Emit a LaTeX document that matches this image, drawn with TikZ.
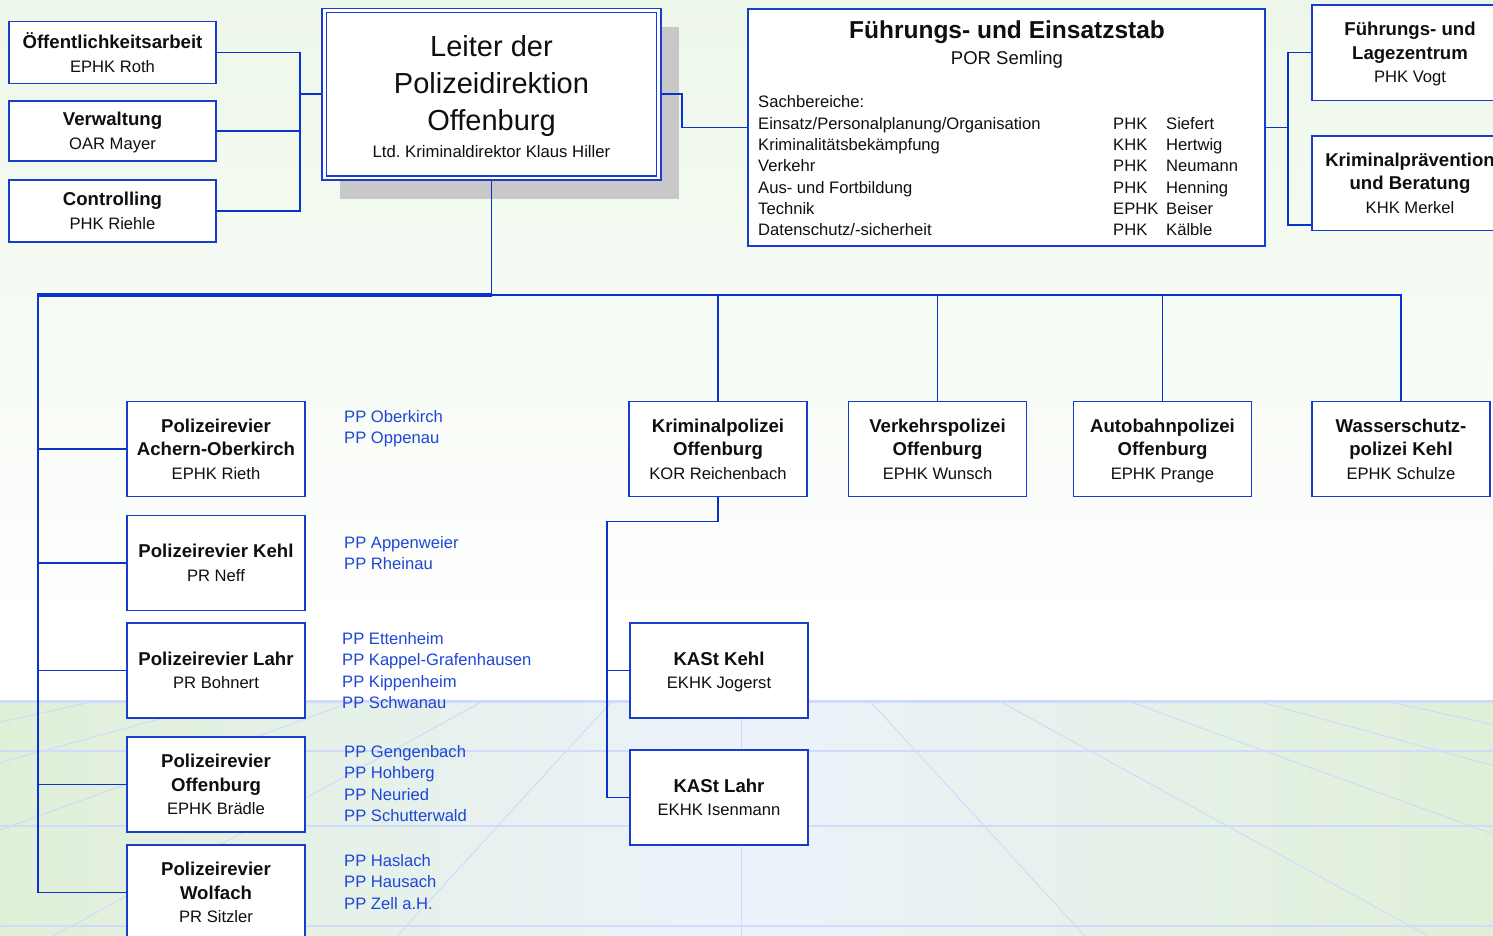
\documentclass[tikz,border=0pt]{standalone}
\usepackage{fontspec}
\setmainfont{Liberation Sans}
\definecolor{boxblue}{RGB}{25,60,205}
\definecolor{lineblue}{RGB}{10,50,205}
\definecolor{ppblue}{RGB}{30,70,215}
\definecolor{gridblue}{RGB}{208,218,250}
\definecolor{topgreen}{RGB}{237,247,233}
\definecolor{floorgreen}{RGB}{224,240,216}
\definecolor{floorblue}{RGB}{236,242,251}
\definecolor{shadowgray}{RGB}{200,200,200}
\definecolor{txt}{RGB}{15,15,15}
\tikzset{
  orgbox/.style={draw=boxblue, line width=1.6pt, fill=white, inner sep=0pt, align=center, text=txt,
    font=\fontsize{16.6}{23.5}\selectfont, minimum width=178pt, minimum height=95pt},
  conn/.style={draw=lineblue, line width=1.5pt},
  pplist/.style={text=ppblue, inner sep=0pt, anchor=base west, font=\fontsize{16.6}{21.5}\selectfont},
}
\newcommand\boxttl[1]{{\fontsize{18.6}{23.5}\selectfont\bfseries #1}}
\newcommand\subln[1]{\smash{#1}}
\newcommand\pplines[1]{\begin{tabular}[t]{@{}l@{}}#1\end{tabular}}
\begin{document}
\begin{tikzpicture}[x=1pt,y=-1pt]
\useasboundingbox (0,0) rectangle (1493,936);
\begin{scope}
\clip (0,0) rectangle (1493,936);
% background
\shade[top color=topgreen, bottom color=white] (0,0) rectangle (1493,640);
\fill[white] (0,639) rectangle (1493,700);
\shade[left color=floorgreen, right color=floorgreen, middle color=floorblue] (0,700) rectangle (1493,936);
\begin{scope}
\clip (0,700) rectangle (1493,936);
\foreach \k in {-7,...,7}
  \draw[gridblue, line width=1pt] ({741+128*\k},700) -- ({741+343.8*\k},936);
\end{scope}
\draw[gridblue, line width=3pt] (0,701) -- (1493,701);
\foreach \yy in {751,826,926}
  \draw[gridblue, line width=1.6pt] (0,\yy) -- (1493,\yy);

% staff boxes left
\node[orgbox, minimum width=207pt, minimum height=62pt] (oeff) at (112.5,52.5) {\boxttl{Öffentlichkeitsarbeit}\\\subln{EPHK Roth}};
\node[orgbox, minimum width=207pt, minimum height=60pt] (verw) at (112.5,131) {\boxttl{Verwaltung}\\\subln{OAR Mayer}};
\node[orgbox, minimum width=207pt, minimum height=62pt] (contr) at (112.5,211) {\boxttl{Controlling}\\\subln{PHK Riehle}};

% leiter
\fill[shadowgray] (340,27) rectangle (679,199);
\node[draw=boxblue, line width=1.3pt, fill=white, minimum width=339pt, minimum height=171.5pt, inner sep=0pt] (leiter) at (491.5,94.25) {};
\draw[boxblue, line width=1.3pt] ([shift={(5pt,-4.5pt)}]leiter.north west) rectangle ([shift={(-5pt,4.5pt)}]leiter.south east);
\node[align=center, inner sep=0pt, text=txt, font=\fontsize{29}{37}\selectfont] (leitertxt) at (491.5,97)
  {Leiter der\\Polizeidirektion\\Offenburg\\[-10pt]{\fontsize{16.7}{20}\selectfont Ltd.\ Kriminaldirektor Klaus Hiller}};

% Fuehrungs- und Einsatzstab
\node[draw=boxblue, line width=1.6pt, fill=white, minimum width=517pt, minimum height=237pt, inner sep=0pt] (fue) at (1006.5,127.5) {};
\node[inner sep=0pt, anchor=base, text=txt, font=\fontsize{24.5}{28}\selectfont\bfseries] (fuettl) at (1007,39) {Führungs- und Einsatzstab};
\node[inner sep=0pt, anchor=base, text=txt, font=\fontsize{18.5}{22}\selectfont] (fuepor) at (1007,64.5) {POR Semling};
\node[inner sep=0pt, anchor=base west, text=txt, font=\fontsize{16.6}{21.33}\selectfont] (fuelist) at (758,108)
  {\begin{tabular}[t]{@{}p{355pt}@{}p{53pt}@{}l@{}}
   Sachbereiche: & & \\
   Einsatz/Personalplanung/Organisation & PHK & Siefert\\
   Kriminalitätsbekämpfung & KHK & Hertwig\\
   Verkehr & PHK & Neumann\\
   Aus- und Fortbildung & PHK & Henning\\
   Technik & EPHK & Beiser\\
   Datenschutz/-sicherheit & PHK & Kälble
   \end{tabular}};

% right boxes
\node[orgbox, minimum width=196pt, minimum height=95.5pt] (lage) at (1410,52.75) {\boxttl{Führungs- und}\\\boxttl{Lagezentrum}\\\subln{PHK Vogt}};
\node[orgbox, minimum width=196pt, minimum height=94.5pt] (krimprev) at (1410,183.25) {\boxttl{Kriminalprävention}\\\boxttl{und Beratung}\\\subln{KHK Merkel}};

% Polizeireviere
\node[orgbox] (achern) at (216,449) {\boxttl{Polizeirevier}\\\boxttl{Achern-Oberkirch}\\\subln{EPHK Rieth}};
\node[orgbox] (kehl) at (216,563) {\boxttl{Polizeirevier Kehl}\\\subln{PR Neff}};
\node[orgbox] (lahr) at (216,670.5) {\boxttl{Polizeirevier Lahr}\\\subln{PR Bohnert}};
\node[orgbox] (offb) at (216,784.5) {\boxttl{Polizeirevier}\\\boxttl{Offenburg}\\\subln{EPHK Brädle}};
\node[orgbox] (wolf) at (216,892.5) {\boxttl{Polizeirevier}\\\boxttl{Wolfach}\\\subln{PR Sitzler}};

% Polizeiposten
\node[pplist] (pp1) at (344,422.3) {\pplines{PP Oberkirch\\PP Oppenau}};
\node[pplist] (pp2) at (344,548) {\pplines{PP Appenweier\\PP Rheinau}};
\node[pplist] (pp3) at (342,644) {\pplines{PP Ettenheim\\PP Kappel-Grafenhausen\\PP Kippenheim\\PP Schwanau}};
\node[pplist] (pp4) at (344,757) {\pplines{PP Gengenbach\\PP Hohberg\\PP Neuried\\PP Schutterwald}};
\node[pplist] (pp5) at (344,866) {\pplines{PP Haslach\\PP Hausach\\PP Zell a.H.}};

% top row
\node[orgbox] (kripo) at (718,449) {\boxttl{Kriminalpolizei}\\\boxttl{Offenburg}\\\subln{KOR Reichenbach}};
\node[orgbox] (verk) at (937.5,449) {\boxttl{Verkehrspolizei}\\\boxttl{Offenburg}\\\subln{EPHK Wunsch}};
\node[orgbox] (autob) at (1162.5,449) {\boxttl{Autobahnpolizei}\\\boxttl{Offenburg}\\\subln{EPHK Prange}};
\node[orgbox] (wasser) at (1401,449) {\boxttl{Wasserschutz-}\\\boxttl{polizei Kehl}\\\subln{EPHK Schulze}};

% KASt
\node[orgbox] (kastk) at (719,670.5) {\boxttl{KASt Kehl}\\\subln{EKHK Jogerst}};
\node[orgbox] (kastlahr) at (719,797.5) {\boxttl{KASt Lahr}\\\subln{EKHK Isenmann}};

% connectors
\coordinate (jl) at (300,94.25);
\draw[conn] (oeff.east) -| (jl);
\draw[conn] (contr.east) -| (jl);
\draw[conn] (verw.east) -- (verw.east -| jl);
\draw[conn] (jl) -- (leiter.west);

\coordinate (jr) at (682,110);
\draw[conn] (leiter.east) -| (jr) |- (fue.west);

\coordinate (jf) at (1288,127.5);
\draw[conn] (fue.east) -- (jf);
\draw[conn] (lage.west) -| (jf);
\draw[conn] ([yshift=-41.5pt]krimprev.west) -| (jf);

\coordinate (barL) at (38,295);
\coordinate (barR) at (1401,294.5);
\draw[conn] (leiter.south) -- (leiter.south |- barL);
\draw[draw=lineblue, line width=3.2pt] ([xshift=-1.25pt]barL) -- (leiter.south |- barL);
\draw[draw=lineblue, line width=2pt] (leiter.south |- barR) -- ([xshift=0.6pt]barR);
\draw[draw=lineblue, line width=1.2pt] (kripo.north |- barR) -- (kripo.north);
\draw[draw=lineblue, line width=1.2pt] (verk.north |- barR) -- (verk.north);
\draw[draw=lineblue, line width=1.2pt] (autob.north |- barR) -- (autob.north);
\draw[draw=lineblue, line width=1.2pt] (barR) -- (wasser.north);
\draw[draw=lineblue, line width=2.5pt] (barL) -- (barL |- wolf.west);
\foreach \n in {achern,kehl,lahr,offb,wolf}
  \draw[conn] (barL |- \n.west) -- (\n.west);

\coordinate (kj) at (607,521.5);
\draw[conn] (kripo.south) |- (kj) |- (kastlahr.west);
\draw[conn] (kj |- kastk.west) -- (kastk.west);
\end{scope}
\end{tikzpicture}
\end{document}
